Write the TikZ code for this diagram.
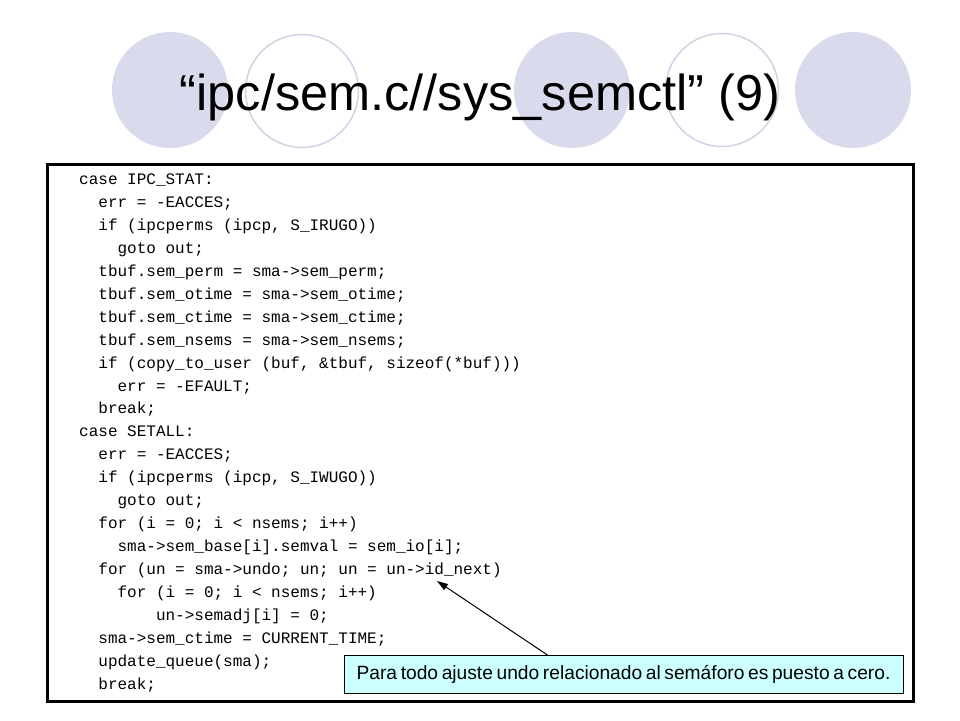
\documentclass[tikz,border=0pt]{standalone}
\usepackage{fontspec}
\setmainfont{Liberation Sans}
\newfontfamily\codefont{Liberation Mono}
\usetikzlibrary{arrows.meta}
\definecolor{lav}{RGB}{218,218,237}
\definecolor{lavline}{RGB}{210,210,230}
\definecolor{callfill}{RGB}{204,255,255}
\newcommand\tightspaces{\spaceskip=0.19em\relax}
\begin{document}
\begin{tikzpicture}[x=1pt,y=-1pt,
  disc/.style={circle,fill=lav,inner sep=0pt,minimum size=116pt},
  ring/.style={circle,draw=lavline,line width=1.5pt,inner sep=0pt,minimum size=113pt},
  codeline/.style={anchor=base west,inner sep=0pt,font=\codefont\fontsize{16}{23}\selectfont},
  titletext/.style={anchor=base,inner sep=0pt,font=\fontsize{50.5}{60}\selectfont},
  codebox/.style={draw=black,line width=3pt},
  callbox/.style={draw=black,line width=0.8pt,fill=callfill,minimum width=559pt,minimum height=38pt,inner sep=0pt,font=\fontsize{19.2}{22}\selectfont},
  pointer/.style={draw=black,line width=1pt,-{Triangle[length=11pt,width=7pt]}}]
\useasboundingbox[fill=white] (0,0) rectangle (960,720);
% decorative circles
\node[disc] (c1) at (170,90) {};
\node[ring] (c2) at (302,91) {};
\node[disc] (c3) at (572,90) {};
\node[ring] (c4) at (722,90) {};
\node[disc] (c5) at (853,90) {};
% title
\node[titletext] (title) at (480,110) {“ipc/sem.c//sys\_semctl” (9)};
% code box
\draw[codebox] (47,164) rectangle (913,701);
% code lines
\node[codeline] (l1)  at (79,184)    {case IPC\_STAT:};
\node[codeline] (l2)  at (98.2,207)  {err = -EACCES;};
\node[codeline] (l3)  at (98.2,230)  {if (ipcperms (ipcp, S\_IRUGO))};
\node[codeline] (l4)  at (117.4,253) {goto out;};
\node[codeline] (l5)  at (98.2,276)  {tbuf.sem\_perm = sma->sem\_perm;};
\node[codeline] (l6)  at (98.2,299)  {tbuf.sem\_otime = sma->sem\_otime;};
\node[codeline] (l7)  at (98.2,322)  {tbuf.sem\_ctime = sma->sem\_ctime;};
\node[codeline] (l8)  at (98.2,345)  {tbuf.sem\_nsems = sma->sem\_nsems;};
\node[codeline] (l9)  at (98.2,368)  {if (copy\_to\_user (buf, \&tbuf, sizeof(*buf)))};
\node[codeline] (l10) at (117.4,391) {err = -EFAULT;};
\node[codeline] (l11) at (98.2,413.5) {break;};
\node[codeline] (l12) at (79,436.5)  {case SETALL:};
\node[codeline] (l13) at (98.2,459.5) {err = -EACCES;};
\node[codeline] (l14) at (98.2,482.5) {if (ipcperms (ipcp, S\_IWUGO))};
\node[codeline] (l15) at (117.4,505) {goto out;};
\node[codeline] (l16) at (98.2,528)  {for (i = 0; i < nsems; i++)};
\node[codeline] (l17) at (117.4,551) {sma->sem\_base[i].semval = sem\_io[i];};
\node[codeline] (l18) at (98.2,574)  {for (un = sma->undo; un; un = un->id\_next)};
\node[codeline] (l19) at (117.4,597) {for (i = 0; i < nsems; i++)};
\node[codeline] (l20) at (155.8,620) {un->semadj[i] = 0;};
\node[codeline] (l21) at (98.2,643)  {sma->sem\_ctime = CURRENT\_TIME;};
\node[codeline] (l22) at (98.2,666)  {update\_queue(sma);};
\node[codeline] (l23) at (98.2,689)  {break;};
% callout
\node[callbox] (callout) at (623.5,674.5) {\tightspaces Para todo ajuste undo relacionado al semáforo es puesto a cero.};
\coordinate (tgt) at (437,581);
\draw[pointer] ([xshift=204pt]callout.north west) -- (tgt);
\end{tikzpicture}
\end{document}
